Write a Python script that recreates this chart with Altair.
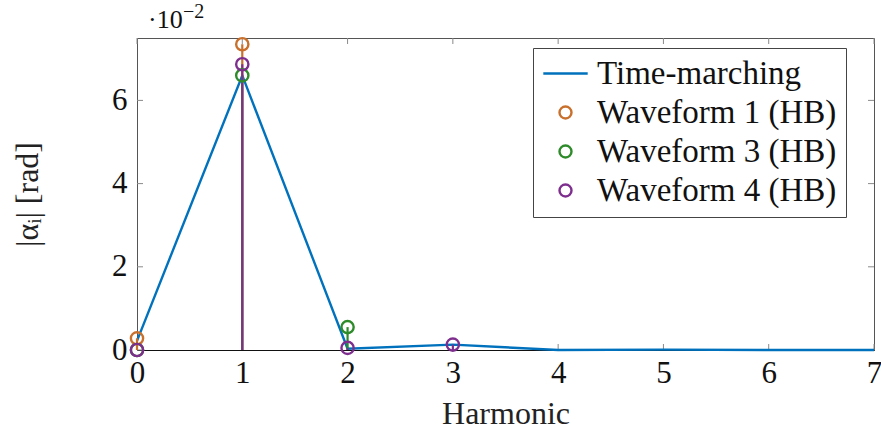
import altair as alt
import pandas as pd

# Harmonic amplitudes |alpha_i|, in units of 1e-2 rad
harmonics_tm = [0, 1, 2, 3, 4, 5, 6, 7]
time_marching = [0.22, 6.6, 0.03, 0.13, 0.0, 0.01, 0.0, 0.0]

harmonics_w1 = [0, 1]
waveform1 = [0.28, 7.35]

harmonics_w3 = [0, 1, 2]
waveform3 = [0.0, 6.6, 0.55]

harmonics_w4 = [0, 1, 2, 3]
waveform4 = [0.0, 6.87, 0.05, 0.13]

series_names = ["Time-marching", "Waveform 1 (HB)", "Waveform 3 (HB)", "Waveform 4 (HB)"]
series_colors = ["#0072BD", "#C8702C", "#2E8B2A", "#7E2F8E"]
series_shapes = ["M-3.7,0L3.7,0", "circle", "circle", "circle"]

x_ticks = [0, 1, 2, 3, 4, 5, 6, 7]
y_ticks = [0, 2, 4, 6]

FONT = "Liberation Serif"
W, H = 737, 312

tm_df = pd.DataFrame({"harmonic": harmonics_tm, "value": time_marching,
                      "series": series_names[0]})
hb_df = pd.concat([
    pd.DataFrame({"harmonic": harmonics_w1, "value": waveform1, "series": series_names[1]}),
    pd.DataFrame({"harmonic": harmonics_w3, "value": waveform3, "series": series_names[2]}),
    pd.DataFrame({"harmonic": harmonics_w4, "value": waveform4, "series": series_names[3]}),
], ignore_index=True)

x_scale = alt.Scale(domain=[0, 7], nice=False, zero=False)
y_scale = alt.Scale(domain=[0, 7.5], nice=False)
color_scale = alt.Scale(domain=series_names, range=series_colors)
shape_scale = alt.Scale(domain=series_names, range=series_shapes)

# One axis definition per direction, shared by every layer so nothing conflicts
x_axis = alt.Axis(values=x_ticks, format="d", title="Harmonic",
                  ticks=False, grid=False, domain=True, domainColor="#111",
                  labelFlush=False, labelBaseline="top",
                  labelPadding=8, titlePadding=10)
y_axis = alt.Axis(values=y_ticks, format="d", title="|αᵢ| [rad]",
                  ticks=False, grid=False, domain=False, labelFlush=False,
                  labelPadding=10, titlePadding=67)


def X(field):
    return alt.X(field, type="quantitative", scale=x_scale, axis=x_axis)


def Y(field):
    return alt.Y(field, type="quantitative", scale=y_scale, axis=y_axis)


# Inward tick marks on all four sides of the box
xt = pd.DataFrame({"t": x_ticks})
yt = pd.DataFrame({"t": y_ticks})
tick_style = dict(color="#8a8a8a", strokeWidth=1)
ticks = alt.layer(
    alt.Chart(xt).mark_rule(**tick_style).encode(x=X("t"), y=alt.value(H), y2=alt.value(H - 6)),
    alt.Chart(xt).mark_rule(**tick_style).encode(x=X("t"), y=alt.value(0), y2=alt.value(6)),
    alt.Chart(yt).mark_rule(**tick_style).encode(y=Y("t"), x=alt.value(0), x2=alt.value(6)),
    alt.Chart(yt).mark_rule(**tick_style).encode(y=Y("t"), x=alt.value(W - 6), x2=alt.value(W)),
)

color_enc = alt.Color("series:N", scale=color_scale, title=None)

line = alt.Chart(tm_df).mark_line(strokeWidth=2.4).encode(
    x=X("harmonic"), y=Y("value"), color=color_enc)

stems = alt.Chart(hb_df).mark_rule(strokeWidth=2.2).encode(
    x=X("harmonic"), y=Y("value"), y2=alt.datum(0), color=color_enc)

points = alt.Chart(hb_df).mark_point(filled=False, size=150, strokeWidth=2.4, opacity=1).encode(
    x=X("harmonic"), y=Y("value"), color=color_enc,
    shape=alt.Shape("series:N", scale=shape_scale, title=None))

# Common exponent of the y axis
one = pd.DataFrame({"k": [0]})
exp_base = alt.Chart(one).mark_text(font=FONT, fontSize=26, align="left",
                                    baseline="alphabetic", color="#111").encode(
    text=alt.value("·10"), x=alt.value(11), y=alt.value(-10))
exp_pow = alt.Chart(one).mark_text(font=FONT, fontSize=20, align="left",
                                   baseline="alphabetic", color="#111").encode(
    text=alt.value("−2"), x=alt.value(46), y=alt.value(-20))

chart = alt.layer(ticks, line, stems, points, exp_base, exp_pow).properties(
    width=W, height=H,
    autosize=alt.AutoSizeParams(type="none"),
    padding={"left": 137, "top": 38, "right": 7, "bottom": 85},
).configure_view(
    stroke="#555", strokeWidth=1
).configure_axis(
    labelFont=FONT, titleFont=FONT, labelFontSize=31, titleFontSize=32,
    labelColor="#111", titleColor="#222", titleFontWeight="normal",
).configure_legend(
    orient="none", legendX=396, legendY=10,
    labelFont=FONT, labelFontSize=33, labelColor="#111",
    strokeColor="#444", fillColor="white", padding=9, cornerRadius=0,
    symbolSize=144, symbolStrokeWidth=2.4, symbolOffset=7, labelOffset=15,
    rowPadding=5, labelLimit=400,
)

chart.save("out.html", embed_options={"renderer": "svg", "actions": False})
